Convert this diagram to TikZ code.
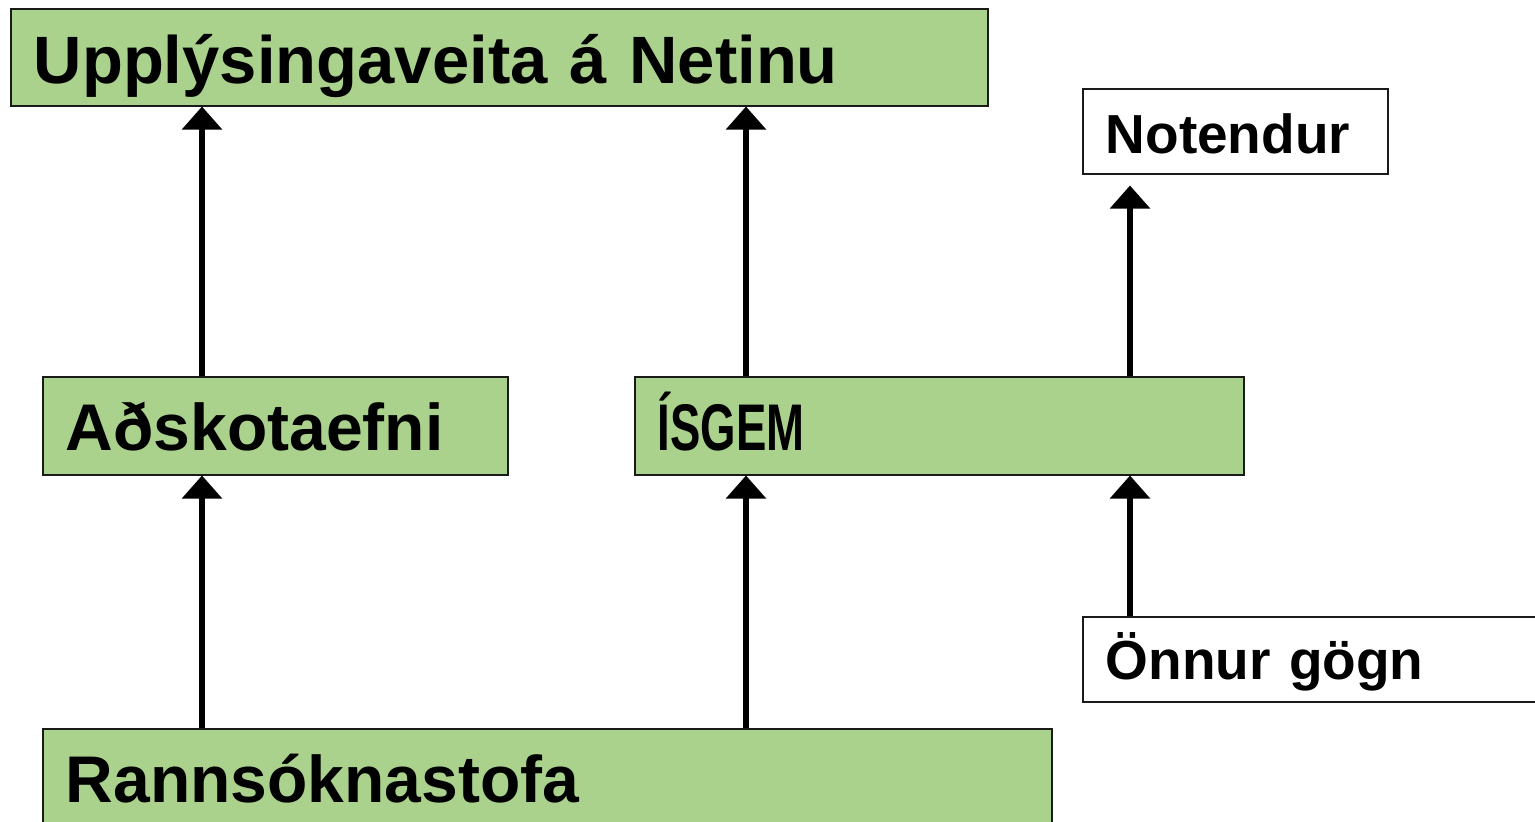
\documentclass[tikz,border=0pt]{standalone}
\usepackage{fontspec}
\setmainfont{Liberation Sans}
\usepackage{graphicx}
\usetikzlibrary{positioning,arrows.meta}
\definecolor{graenn}{HTML}{ABD28D}
\definecolor{rammi}{HTML}{1A1A1A}

\begin{document}
\begin{tikzpicture}[x=1pt, y=-1pt, every node/.style={rectangle, draw=rammi, line width=1.5pt, inner xsep=23pt, inner ysep=0pt, align=left, anchor=north west, font=\bfseries\fontsize{66}{70}\selectfont, text height=62pt, text depth=12pt, minimum height=98pt},
    graennbox/.style={fill=graenn},
    hvitbox/.style={fill=white, font=\bfseries\fontsize{55}{60}\selectfont, text height=52pt, text depth=7pt, minimum height=85pt},
    pil/.style={-{Triangle[width=39pt,length=23pt]}, line width=6pt, black}]
        \useasboundingbox (0,0) rectangle (1535,822);
        \node[graennbox, text width=931pt, text depth=9pt, minimum height=97pt, font=\bfseries\fontsize{67}{70}\selectfont] (upp) at (10,8) {Upplýsingaveita á Netinu};
        \node[hvitbox, text width=259pt] (notendur) at (1082,88) {Notendur};
        \node[graennbox, text width=419pt] (adsk) at (42,376) {Aðskotaefni};
        \node[graennbox, text width=563pt] (isgem) at (634,376) {\scalebox{0.69}[1]{ÍSGEM}};
        \node[hvitbox, text width=434pt, text depth=11pt] (onnur) at (1082,616) {Önnur gögn};
        \node[graennbox, text width=963pt] (rann) at (42,728) {Rannsóknastofa};
        \coordinate (c1) at (202,0);
        \coordinate (c2) at (746,0);
        \coordinate (c3) at (1130,0);
        \draw[pil] (c1 |- adsk.north) -- (c1 |- upp.south);
        \draw[pil] (c2 |- isgem.north) -- (c2 |- upp.south);
        \draw[pil, shorten >=11pt] (c3 |- isgem.north) -- (c3 |- notendur.south);
        \draw[pil] (c1 |- rann.north) -- (c1 |- adsk.south);
        \draw[pil] (c2 |- rann.north) -- (c2 |- isgem.south);
        \draw[pil] (c3 |- onnur.north) -- (c3 |- isgem.south);
    \end{tikzpicture}
\end{document}
